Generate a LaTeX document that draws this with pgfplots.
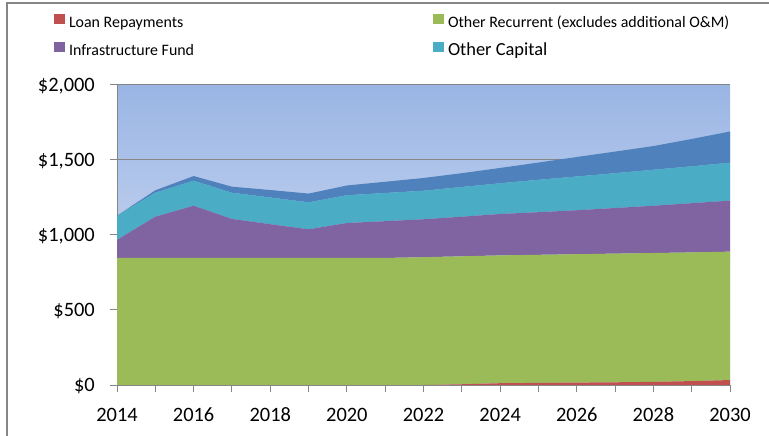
\documentclass[border=0pt]{standalone}
\usepackage{pgfplots}
\usepackage{pgfplotstable}
\pgfplotsset{compat=1.18}
\usepackage{fontspec}
\setmainfont{Carlito}

\definecolor{cRed}{RGB}{192,80,77}
\definecolor{cGreen}{RGB}{155,187,89}
\definecolor{cPurple}{RGB}{128,100,162}
\definecolor{cCyan}{RGB}{75,172,198}
\definecolor{cBlue}{RGB}{79,129,189}
\definecolor{gridc}{RGB}{134,134,134}
\definecolor{bgTop}{RGB}{154,181,228}
\definecolor{bgBot}{RGB}{222,230,246}

\pgfplotstableread{
year red green purple cyan dblue
2014 0 847 120 162 0
2015 0 847 275 160 16
2016 0 847 348 167 31
2017 0 847 260 175 40
2018 0 847 225 178 50
2019 0 847 191 180 58
2020 0 847 233 185 65
2021 0 847 245 188 75
2022 0 852 253 190 85
2023 5 853 264 198 92
2024 12 852 276 205 102
2025 14 854 284 216 115
2026 16 856 293 225 130
2027 18 858 304 232 144
2028 21 859 315 240 158
2029 26 858 328 246 182
2030 33 856 340 253 208
}\data

\begin{document}
\begin{tikzpicture}
\useasboundingbox (0bp,0bp) rectangle (769bp,436bp);
\draw[gridc, line width=1.5bp] (7bp,-20bp) -- (7bp,433bp) -- (800bp,433bp);
\begin{axis}[
  at={(117bp,51bp)}, anchor=south west,
  scale only axis, width=613bp, height=300bp,
  xmin=2014, xmax=2030, ymin=0, ymax=2000,
  axis x line*=bottom, axis y line*=left,
  axis line style={gridc, line width=1bp, -},
  axis background/.style={top color=bgTop, bottom color=bgBot},
  stack plots=y,
  tick align=outside,
  major tick length=7bp, minor tick length=7bp,
  tick style={gridc, line width=1bp},
  xtick={2014,2016,...,2030},
  minor xtick={2015,2017,...,2029},
  xticklabels={2014,2016,2018,2020,2022,2024,2026,2028,2030},
  ytick={0,500,1000,1500,2000},
  yticklabels={{\$0},{\$500},{\$1,000},{\$1,500},{\$2,000}},
  ymajorgrids,
  major grid style={gridc, line width=1bp},
  tick label style={font=\fontsize{20.5}{24}\selectfont, text=black},
  yticklabel style={anchor=east, inner sep=0pt, text height=13bp, text depth=0bp},
  yticklabel shift=15bp,
  xticklabel style={anchor=base, inner sep=0pt},
  xticklabel shift=29bp,
  legend columns=2,
  legend cell align=left,
  legend image code/.code={\fill[#1] (0bp,0bp) rectangle (11bp,10bp);},
  legend style={draw=none, fill=none, inner sep=0pt, outer sep=0pt,
    at={(axis description cs:0,1)}, anchor=north west, xshift=-63bp, yshift=71bp,
    font=\fontsize{16}{18}\selectfont, row sep=10bp, column sep=0pt,
    nodes={inner sep=0pt, outer sep=0pt, text height=12bp, text depth=4bp, anchor=west}},
]
\addplot[fill=cRed, draw=none] table[x=year,y=red]{\data} \closedcycle;
\addlegendentry{\makebox[368bp][l]{\hspace{4bp}Loan Repayments}}
\addplot[fill=cGreen, draw=none] table[x=year,y=green]{\data} \closedcycle;
\addlegendentry{\hspace{4bp}Other Recurrent (excludes additional O\&M)}
\addplot[fill=cPurple, draw=none] table[x=year,y=purple]{\data} \closedcycle;
\addlegendentry{\makebox[368bp][l]{\hspace{4bp}Infrastructure Fund}}
\addplot[fill=cCyan, draw=none] table[x=year,y=cyan]{\data} \closedcycle;
\addlegendentry{\hspace{4bp}\fontsize{18.5}{20}\selectfont Other Capital}
\addplot[fill=cBlue, draw=none] table[x=year,y=dblue]{\data} \closedcycle;
\end{axis}
\end{tikzpicture}
\end{document}
